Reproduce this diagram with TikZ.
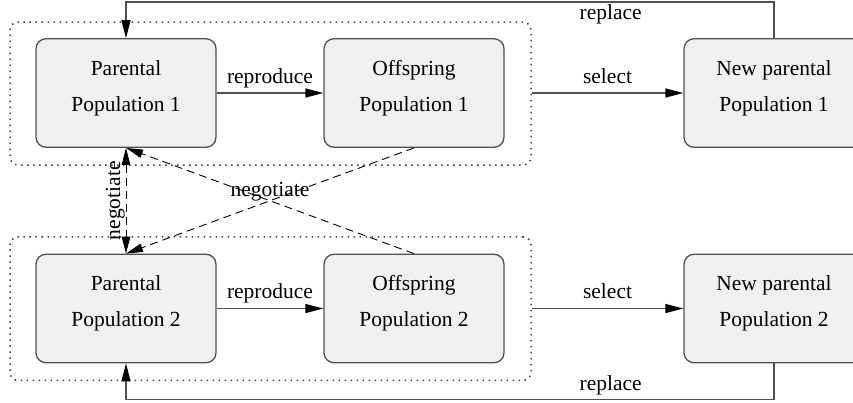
\documentclass[tikz,border=0pt]{standalone}
\usepackage{fontspec}
\setmainfont{Liberation Serif}
\usetikzlibrary{arrows.meta}
\definecolor{boxfill}{HTML}{F0F0F0}
\definecolor{edgegray}{HTML}{505050}
\begin{document}
\begin{tikzpicture}[x=1pt,y=-1pt,
  font=\fontsize{21.5}{35.7}\selectfont,
  pop/.style={draw=edgegray, line width=1.3pt, fill=boxfill, rounded corners=10pt,
    minimum width=180pt, minimum height=108.5pt, align=center, inner sep=0pt,
    text depth=14.5pt},
  grp/.style={draw=black!75, line width=1.5pt, dash pattern=on 1.5pt off 4.5pt,
    rounded corners=8pt, inner sep=0pt},
  conn/.style={draw=edgegray, line width=1.3pt,
    -{Triangle[length=18pt,width=9pt,color=black]}},
  neg/.style={draw=black, line width=0.9pt, dash pattern=on 8pt off 5pt,
    -{Triangle[length=17pt,width=8.5pt]}},
  lbl/.style={anchor=base, inner sep=0pt}]
\useasboundingbox (0,0) rectangle (853,402);
% groups
\node[grp, minimum width=521pt, minimum height=143pt] (g1) at (270.5,93.5) {};
\node[grp, minimum width=521pt, minimum height=143.5pt] (g2) at (270.5,308.7) {};
% population boxes
\node[pop] (P1) at (126,93) {Parental\\Population 1};
\node[pop] (O1) at (414,93) {Offspring\\Population 1};
\node[pop] (N1) at (774,93) {New parental\\Population 1};
\node[pop] (P2) at (126,308.5) {Parental\\Population 2};
\node[pop] (O2) at (414,308.5) {Offspring\\Population 2};
\node[pop] (N2) at (774,308.5) {New parental\\Population 2};
% reproduce / select
\draw[conn] (P1.east) -- node[lbl, yshift=10pt] {reproduce} (O1.west);
\draw[conn] (P2.east) -- node[lbl, yshift=10pt] {reproduce} (O2.west);
\draw[conn] (g1.east |- N1.west) -- node[lbl, yshift=10pt] {select} (N1.west);
\draw[conn] (g2.east |- N2.west) -- node[lbl, yshift=10pt] {select} (N2.west);
% replace
\draw[conn] (N1.north) -- ++(0,-36) -| node[lbl, pos=0.126, yshift=-17pt] {replace} (P1.north);
\draw[conn] (N2.south) -- ++(0,36) -| node[lbl, pos=0.126, yshift=8.5pt] {replace} (P2.south);
% negotiate
\draw[neg, {Triangle[length=17pt,width=8.5pt]}-{Triangle[length=17pt,width=8.5pt]}] (P1.south) --
  node[midway, xshift=-6pt, rotate=90, anchor=base, inner sep=0pt] {negotiate} (P2.north);
\draw[neg] (O1.south) -- node[lbl, midway, yshift=4pt] {negotiate} (P2.north);
\draw[neg] (O2.north) -- (P1.south);
\end{tikzpicture}
\end{document}
